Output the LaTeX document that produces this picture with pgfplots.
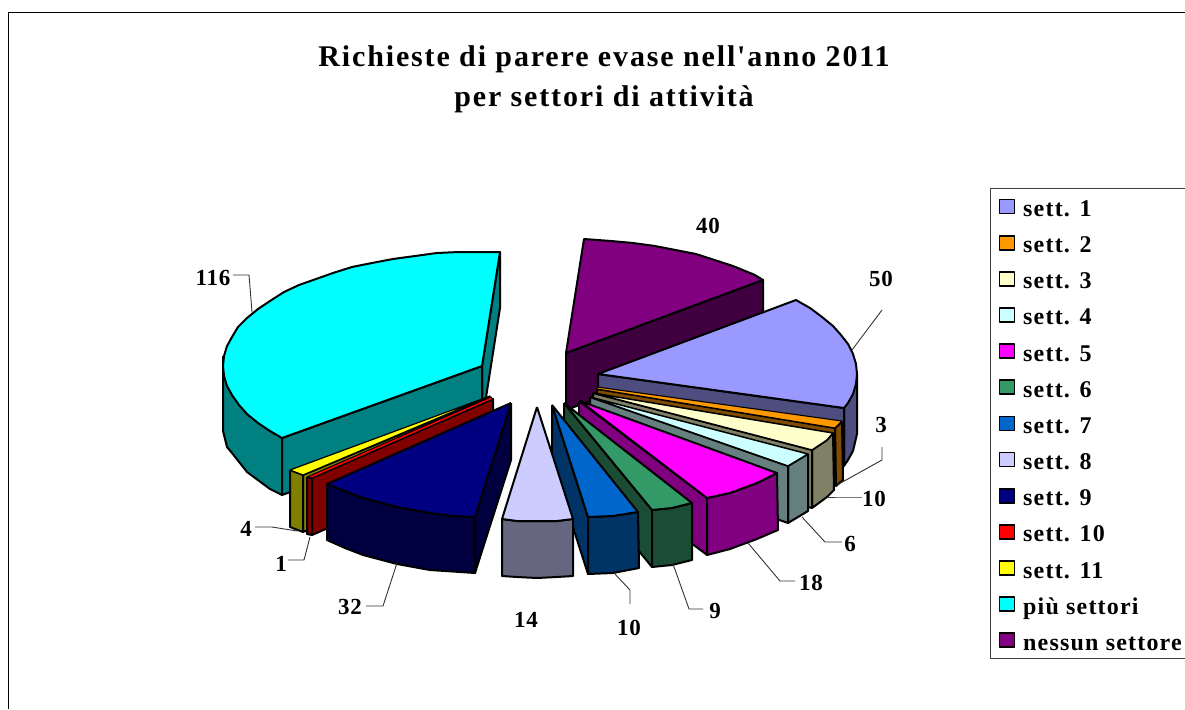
\documentclass[border=0pt]{standalone}
\usepackage{pgfplots}
\pgfplotsset{compat=1.18}
\usepackage{fontspec}
\setmainfont{Liberation Serif}[LetterSpace=3]
\newfontfamily\titlefont[LetterSpace=6.2]{Liberation Serif}
\newfontfamily\legfont[LetterSpace=5]{Liberation Serif}
\definecolor{cUno}{HTML}{9999FF}\definecolor{sUno}{HTML}{4D4D80}
\definecolor{cDue}{HTML}{FF9900}\definecolor{sDue}{HTML}{804D00}
\definecolor{cTre}{HTML}{FFFFCC}\definecolor{sTre}{HTML}{808066}
\definecolor{cQua}{HTML}{CCFFFF}\definecolor{sQua}{HTML}{668080}
\definecolor{cCin}{HTML}{FF00FF}\definecolor{sCin}{HTML}{800080}
\definecolor{cSei}{HTML}{339966}\definecolor{sSei}{HTML}{1A4D33}
\definecolor{cSet}{HTML}{0066CC}\definecolor{sSet}{HTML}{003366}
\definecolor{cOtt}{HTML}{CCCCFF}\definecolor{sOtt}{HTML}{666680}
\definecolor{cNov}{HTML}{000080}\definecolor{sNov}{HTML}{000040}
\definecolor{cDie}{HTML}{FF0000}\definecolor{sDie}{HTML}{800000}
\definecolor{cUnd}{HTML}{FFFF00}\definecolor{sUnd}{HTML}{808000}
\definecolor{cPiu}{HTML}{00FFFF}\definecolor{sPiu}{HTML}{008080}
\definecolor{cNes}{HTML}{800080}\definecolor{sNes}{HTML}{400040}
\tikzset{
  slab/.style={font=\fontsize{23}{25}\selectfont\bfseries,inner sep=0pt},
  lead/.style={draw=black!80,line width=0.9pt,line join=miter},
}
\begin{document}
\begin{tikzpicture}
\useasboundingbox (0,0) rectangle (1185pt,709pt);
\begin{axis}[
  at={(0,0)},anchor=south west,scale only axis,width=1185pt,height=709pt,
  xmin=0,xmax=1185,ymin=0,ymax=709,y dir=reverse,hide axis,clip=false,
  legend cell align=left,
  legend image code/.code={\draw[#1,line width=1.7pt] (0pt,-7pt) rectangle (15pt,7pt);},
  legend style={at={(axis cs:990,188)},anchor=north west,draw=black!75,line width=1pt,
    inner xsep=8pt,inner ysep=5pt,row sep=10.15pt,column sep=8pt,
    font=\fontsize{24}{26}\selectfont\legfont\bfseries,
    nodes={inner sep=0pt,text height=23pt,text depth=3pt}},
  every axis plot/.append style={draw=black,line width=2pt,line join=round},
]
% outer frame of the chart area
\addplot[forget plot,draw=black,line width=1pt] coordinates {(8,709) (8,13) (1185,13)};

% nessun settore
\addplot[forget plot,fill=sNes] coordinates {(566,353) (763,280) (763,337) (566,410) (566,353)};
\addplot[forget plot,fill=cNes] coordinates {(566,353) (584,239) (611,241) (633,243) (655,246) (696,254) (733,266) (755,275) (763,280) (566,353)};

% più settori
\addplot[forget plot,fill=sPiu] coordinates {(500,252) (500,308) (482,423) (482,366) (500,252)};
\addplot[forget plot,fill=sPiu] coordinates {(223,356) (223,431) (227,447) (232,453) (247,472) (270,489) (282,495) (282,438) (270,431) (247,414) (232,395) (224,376)};
\addplot[forget plot,fill=sPiu] coordinates {(282,438) (482,366) (482,423) (282,495) (282,438)};
\addplot[forget plot,fill=cPiu] coordinates {(482,366) (500,252) (459,252) (437,253) (415,256) (393,259) (372,263) (352,267) (333,273) (316,279) (299,285) (284,292) (270,301) (258,309) (247,318) (238,327) (232,337) (227,346) (224,356) (223,366) (224,376) (227,386) (232,395) (239,405) (247,414) (258,423) (270,431) (282,438) (482,366)};

% sett. 1
\addplot[forget plot,fill=sUno] coordinates {(857,374) (857,434) (853,451) (848,460) (844,466) (844,408) (857,374)};
\addplot[forget plot,fill=sUno] coordinates {(598,374) (844,408) (844,465) (598,431) (598,374)};
\addplot[forget plot,fill=cUno] coordinates {(598,374) (796,300) (810,308) (822,317) (833,326) (841,335) (848,344) (853,354) (856,364) (857,374) (856,384) (853,394) (848,403) (844,408) (598,374)};

% sett. 2
\addplot[forget plot,fill=sDue] coordinates {(842,422) (843,480) (836,486) (835,428) (842,422)};
\addplot[forget plot,fill=sDue] coordinates {(597,389) (835,428) (835,485) (597,446) (597,389)};
\addplot[forget plot,fill=cDue,line width=1.1pt] coordinates {(597,387) (842,421) (835,428) (597,389) (597,387)};

% sett. 3
\addplot[forget plot,fill=sTre] coordinates {(833,433) (834,490) (827,497) (812,508) (812,450) (827,440) (833,433)};
\addplot[forget plot,fill=sTre] coordinates {(593,393) (812,450) (812,508) (593,451) (593,393)};
\addplot[forget plot,fill=cTre,line width=1.5pt] coordinates {(593,393) (833,433) (827,440) (812,450) (593,393)};

% sett. 4
\addplot[forget plot,fill=sQua] coordinates {(808,454) (808,511) (788,523) (788,466) (808,454)};
\addplot[forget plot,fill=sQua] coordinates {(590,397) (788,466) (788,523) (590,454) (590,397)};
\addplot[forget plot,fill=cQua,line width=1.5pt] coordinates {(590,397) (808,454) (788,466) (590,397)};

% sett. 5
\addplot[forget plot,fill=sCin] coordinates {(579,401) (707,498) (707,555) (579,458) (579,401)};
\addplot[forget plot,fill=sCin] coordinates {(777,473) (778,530) (757,539) (730,549) (707,555) (707,498) (730,493) (757,483) (777,473)};
\addplot[forget plot,fill=cCin] coordinates {(580,401) (777,473) (757,483) (730,493) (707,498) (580,401)};

% sett. 6
\addplot[forget plot,fill=sSei] coordinates {(564,403) (652,510) (652,567) (564,460) (564,403)};
\addplot[forget plot,fill=sSei] coordinates {(652,510) (672,508) (692,503) (692,560) (672,565) (652,567) (652,510)};
\addplot[forget plot,fill=cSei] coordinates {(564,403) (692,503) (672,508) (652,510) (564,403)};

% sett. 7
\addplot[forget plot,fill=sSet] coordinates {(552,405) (588,517) (588,574) (552,462) (552,405)};
\addplot[forget plot,fill=sSet] coordinates {(638,512) (639,568) (613,573) (588,574) (588,517) (613,516) (638,512)};
\addplot[forget plot,fill=cSet] coordinates {(552,405) (638,512) (613,516) (588,517) (552,405)};

% sett. 8
\addplot[forget plot,fill=sOtt] coordinates {(502,519) (502,576) (517,577) (537,578) (557,577) (573,576) (573,519) (557,521) (537,521) (517,521) (502,519)};
\addplot[forget plot,fill=cOtt] coordinates {(537,407) (573,519) (557,521) (537,521) (517,521) (502,519) (537,407)};

% sett. 11
\addplot[forget plot,fill=sUnd] coordinates {(290,470) (290,527) (303,532) (303,475) (290,470)};
\addplot[forget plot,fill=sUnd] coordinates {(303,475) (490,397) (490,454) (303,532) (303,475)};
\addplot[forget plot,fill=cUnd,line width=1.2pt] coordinates {(290,470) (490,396) (303,475) (290,470)};

% sett. 10
\addplot[forget plot,fill=sDie] coordinates {(307,477) (312,478) (312,535) (307,534) (307,477)};
\addplot[forget plot,fill=sDie] coordinates {(312,478) (493,399) (493,456) (312,535) (312,478)};
\addplot[forget plot,fill=cDie,line width=1pt] coordinates {(307,477) (491,397) (493,399) (312,478) (307,477)};

% sett. 9
\addplot[forget plot,fill=sNov] coordinates {(511,403) (511,460) (475,573) (475,517) (511,403)};
\addplot[forget plot,fill=sNov] coordinates {(327,484) (327,540) (345,548) (363,555) (397,564) (430,570) (475,573) (475,517) (430,513) (397,507) (363,498) (345,491) (327,484)};
\addplot[forget plot,fill=cNov] coordinates {(511,403) (475,517) (452,516) (430,513) (397,507) (363,498) (345,491) (327,484) (511,403)};

% leader lines
\addplot[forget plot,lead] coordinates {(233,275) (249,275) (252,312)};
\addplot[forget plot,lead] coordinates {(852,350) (882,310)};
\addplot[forget plot,lead] coordinates {(882,447) (882,460) (837,485)};
\addplot[forget plot,lead] coordinates {(862,497) (843,497) (827,497)};
\addplot[forget plot,lead] coordinates {(842,542) (825,542) (802,517)};
\addplot[forget plot,lead] coordinates {(795,581) (780,581) (748,543)};
\addplot[forget plot,lead] coordinates {(703,609) (689,609) (673,564)};
\addplot[forget plot,lead] coordinates {(630,604) (630,590) (614,573)};
\addplot[forget plot,lead] coordinates {(366,606) (383,606) (397,563)};
\addplot[forget plot,lead] coordinates {(288,560) (304,560) (310,537)};
\addplot[forget plot,lead] coordinates {(255,527) (272,527) (297,531)};

% legend entries, in the order of the sectors
\addlegendimage{draw=black,fill=cUno}\addlegendentry{sett. 1}
\addlegendimage{draw=black,fill=cDue}\addlegendentry{sett. 2}
\addlegendimage{draw=black,fill=cTre}\addlegendentry{sett. 3}
\addlegendimage{draw=black,fill=cQua}\addlegendentry{sett. 4}
\addlegendimage{draw=black,fill=cCin}\addlegendentry{sett. 5}
\addlegendimage{draw=black,fill=cSei}\addlegendentry{sett. 6}
\addlegendimage{draw=black,fill=cSet}\addlegendentry{sett. 7}
\addlegendimage{draw=black,fill=cOtt}\addlegendentry{sett. 8}
\addlegendimage{draw=black,fill=cNov}\addlegendentry{sett. 9}
\addlegendimage{draw=black,fill=cDie}\addlegendentry{sett. 10}
\addlegendimage{draw=black,fill=cUnd}\addlegendentry{sett. 11}
\addlegendimage{draw=black,fill=cPiu}\addlegendentry{più settori}
\addlegendimage{draw=black,fill=cNes}\addlegendentry{nessun settore}

% value labels
\node[slab] at (axis cs:213,278) {116};
\node[slab] at (axis cs:708,226) {40};
\node[slab] at (axis cs:881,279) {50};
\node[slab] at (axis cs:881,425) {3};
\node[slab] at (axis cs:874,499) {10};
\node[slab] at (axis cs:850,544) {6};
\node[slab] at (axis cs:811,583) {18};
\node[slab] at (axis cs:715,611) {9};
\node[slab] at (axis cs:629,628) {10};
\node[slab] at (axis cs:526,620) {14};
\node[slab] at (axis cs:350,607) {32};
\node[slab] at (axis cs:281,564) {1};
\node[slab] at (axis cs:246,529) {4};

% title
\node[font=\fontsize{30}{40}\selectfont\titlefont\bfseries,align=center,inner sep=0pt] at (axis cs:604,79)
  {Richieste di parere evase nell'anno 2011\\per settori di attività};
\end{axis}
\end{tikzpicture}
\end{document}
